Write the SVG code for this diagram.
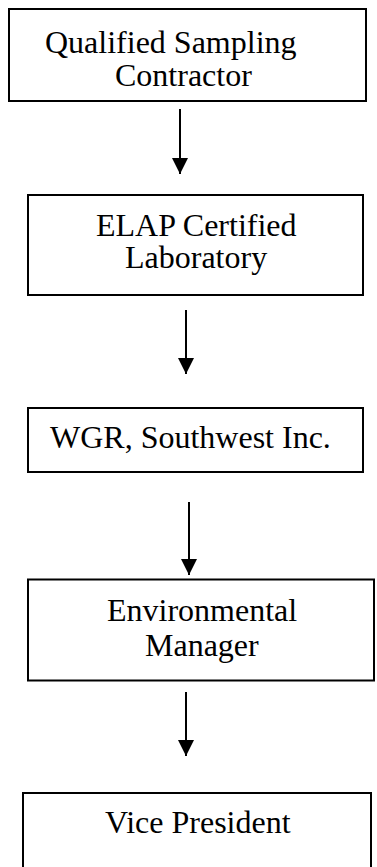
<svg xmlns="http://www.w3.org/2000/svg" width="377" height="867" viewBox="0 0 377 867">
<style>
.box{fill:none;stroke:#000;stroke-width:2}
.lbl{font-family:"Liberation Serif","Times New Roman",serif;font-size:32px;fill:#000}
.con{stroke:#000;stroke-width:2;fill:none}
</style>
<defs>
<marker id="ah" markerUnits="userSpaceOnUse" markerWidth="16" markerHeight="16" refX="16" refY="8" orient="auto">
<path d="M0,0 L16,8 L0,16 Z" fill="#000"/>
</marker>
</defs>
<rect width="377" height="867" fill="#fff"/>
<g id="n1"><rect class="box" x="9" y="9" width="357" height="92"/>
<text class="lbl" x="45" y="53">Qualified Sampling</text>
<text class="lbl" x="115" y="86">Contractor</text></g>
<g id="n2"><rect class="box" x="28" y="195" width="335" height="100"/>
<text class="lbl" x="96" y="236">ELAP Certified</text>
<text class="lbl" x="125" y="268">Laboratory</text></g>
<g id="n3"><rect class="box" x="28" y="408" width="335" height="64"/>
<text class="lbl" x="50" y="448">WGR, Southwest Inc.</text></g>
<g id="n4"><rect class="box" x="28" y="579.5" width="346" height="101"/>
<text class="lbl" x="107" y="621">Environmental</text>
<text class="lbl" x="145" y="656">Manager</text></g>
<g id="n5"><rect class="box" x="23" y="793" width="348" height="100"/>
<text class="lbl" x="105" y="833">Vice President</text></g>
<g id="connectors">
<line class="con" x1="180" y1="109" x2="180" y2="174" marker-end="url(#ah)"/>
<line class="con" x1="186" y1="310" x2="186" y2="374" marker-end="url(#ah)"/>
<line class="con" x1="189" y1="502" x2="189" y2="575" marker-end="url(#ah)"/>
<line class="con" x1="186" y1="692" x2="186" y2="756" marker-end="url(#ah)"/>
</g>
</svg>
